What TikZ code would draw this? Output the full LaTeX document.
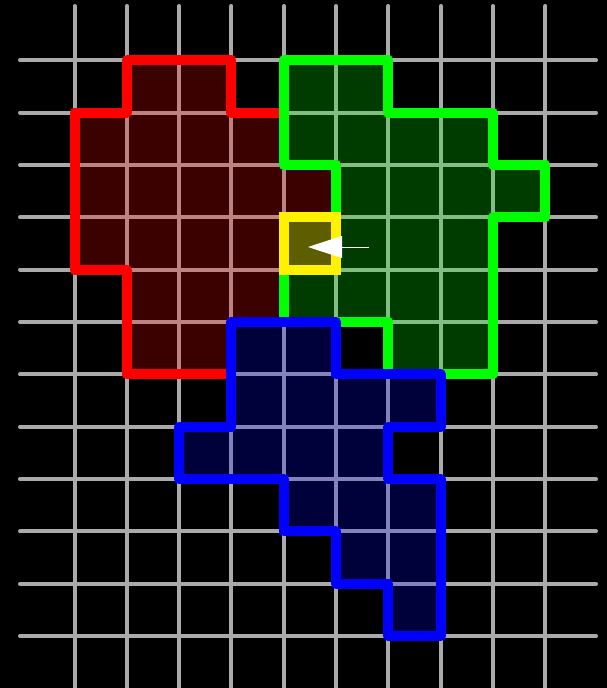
\documentclass[tikz,border=0pt]{standalone}
\usetikzlibrary{arrows.meta}
\definecolor{gridgray}{RGB}{170,170,170}
\definecolor{olivefill}{RGB}{94,94,0}
\tikzset{
  gridline/.style={draw=gridgray, line width=4pt, line cap=round},
  region/.style={fill=#1, fill opacity=0.23},
  outline/.style={draw=#1, line width=10pt, line join=round},
}
\begin{document}
\begin{tikzpicture}
\fill[black] (0,0) rectangle (607pt,-688pt);
\useasboundingbox (0,0) rectangle (607pt,-688pt);
\clip (0,0) rectangle (607pt,-688pt);
\begin{scope}[shift={(74.5pt,-60.3pt)}, x=52.33pt, y=-52.35pt]
  % grid
  \foreach \i in {0,...,9} \draw[gridline] (\i,-1.037) -- (\i,12.3);
  \foreach \j in {0,...,11} \draw[gridline] (-1.041,\j) -- (9.966,\j);
  % fills
  \path[region=red] (1,0) -- (3,0) -- (3,1) -- (4,1) -- (4,2) -- (5,2) -- (5,4) -- (4,4) -- (4,5) -- (3,5) -- (3,6) -- (1,6) -- (1,4) -- (0,4) -- (0,1) -- (1,1) -- cycle;
  \path[region=green] (4,0) -- (6,0) -- (6,1) -- (8,1) -- (8,2) -- (9,2) -- (9,3) -- (8,3) -- (8,6) -- (6,6) -- (6,5) -- (4,5) -- (4,3) -- (5,3) -- (5,2) -- (4,2) -- cycle;
  \path[region=blue] (3,5) -- (5,5) -- (5,6) -- (7,6) -- (7,7) -- (6,7) -- (6,8) -- (7,8) -- (7,11) -- (6,11) -- (6,10) -- (5,10) -- (5,9) -- (4,9) -- (4,8) -- (2,8) -- (2,7) -- (3,7) -- cycle;
  % outlines
  \draw[outline=red] (1,0) -- (3,0) -- (3,1) -- (4,1) -- (4,2) -- (5,2) -- (5,4) -- (4,4) -- (4,5) -- (3,5) -- (3,6) -- (1,6) -- (1,4) -- (0,4) -- (0,1) -- (1,1) -- cycle;
  \draw[outline=green] (4,0) -- (6,0) -- (6,1) -- (8,1) -- (8,2) -- (9,2) -- (9,3) -- (8,3) -- (8,6) -- (6,6) -- (6,5) -- (4,5) -- (4,3) -- (5,3) -- (5,2) -- (4,2) -- cycle;
  \draw[outline=blue] (3,5) -- (5,5) -- (5,6) -- (7,6) -- (7,7) -- (6,7) -- (6,8) -- (7,8) -- (7,11) -- (6,11) -- (6,10) -- (5,10) -- (5,9) -- (4,9) -- (4,8) -- (2,8) -- (2,7) -- (3,7) -- cycle;
  % highlighted cell
  \filldraw[fill=olivefill, draw=yellow, line width=10pt] (4,3) rectangle (5,4);
\end{scope}
% arrow
\coordinate (tail) at (369pt,-247pt);
\coordinate (tip) at (308pt,-247pt);
\draw[white, line width=1pt, -{Triangle[length=34pt,width=22pt]}] (tail) -- (tip);
\end{tikzpicture}
\end{document}
